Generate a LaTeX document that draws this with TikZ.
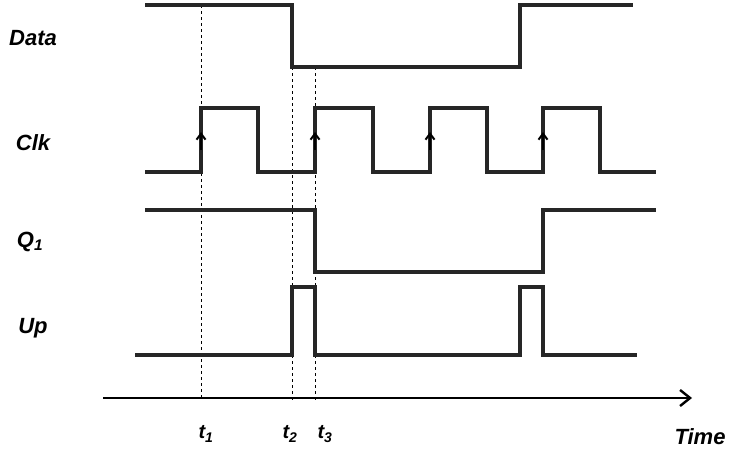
\documentclass[tikz,border=0pt]{standalone}
\usepackage{fontspec}
\setmainfont{Liberation Sans}
\usetikzlibrary{arrows.meta}
\begin{document}
\begin{tikzpicture}[x=1pt,y=-1pt,
  sig/.style={line width=3.2pt,color=black!85,line join=miter},
  dsh/.style={dashed,line width=0.6pt},
  lab/.style={font=\bfseries\itshape\fontsize{22}{22}\selectfont},
  tl/.style={font=\bfseries\itshape\fontsize{20}{20}\selectfont},
  ar/.style={line width=2pt,-{Straight Barb[length=6pt,width=9pt]}}]
\useasboundingbox (0,0) rectangle (735,450);
% dashed
\draw[dsh] (201,5) -- (201,400);
\draw[dsh] (292,67) -- (292,400);
\draw[dsh] (315,67) -- (315,400);
% Data
\draw[sig] (145,5) -- (292,5) -- (292,67) -- (520,67) -- (520,5) -- (633,5);
% Clk
\draw[sig] (145,172) -- (201,172) -- (201,108) -- (258,108) -- (258,172) -- (315,172) -- (315,108) -- (373,108) -- (373,172) -- (430,172) -- (430,108) -- (487,108) -- (487,172) -- (543,172) -- (543,108) -- (600,108) -- (600,172) -- (656,172);
\foreach \x in {201,315,430,543}{\draw[ar] (\x,150) -- (\x,132);}
% Q1
\draw[sig] (145,210) -- (315,210) -- (315,272) -- (543,272) -- (543,210) -- (656,210);
% Up
\draw[sig] (135,355) -- (292,355) -- (292,287) -- (315,287) -- (315,355) -- (520,355) -- (520,287) -- (543,287) -- (543,355) -- (637,355);
% axis
\draw[line width=2.4pt,-{Straight Barb[length=10pt,width=16pt]}] (103,398) -- (692,398);
% labels
\node[lab] (ld) at (33,38) {Data};
\node[lab] (lc) at (33,143) {Clk};
\node[lab] (lq) at (30,242) {Q\textsubscript{1}};
\node[lab] (lu) at (33,328) {Up};
\node[tl] (t1) at (206,434) {t\textsubscript{1}};
\node[tl] (t2) at (290,434) {t\textsubscript{2}};
\node[tl] (t3) at (325,434) {t\textsubscript{3}};
\node[lab] (tm) at (700,437) {Time};
\end{tikzpicture}
\end{document}
